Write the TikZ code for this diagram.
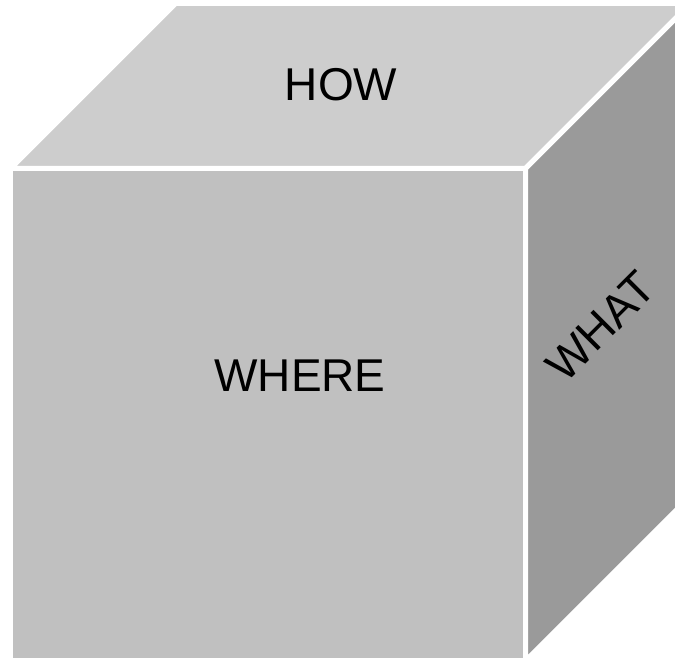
\documentclass[tikz,border=0pt]{standalone}
\usepackage{fontspec}
\setmainfont{Liberation Sans}
\definecolor{topgray}{HTML}{CDCDCD}
\definecolor{frontgray}{HTML}{C0C0C0}
\definecolor{sidegray}{HTML}{9A9A9A}
\begin{document}
\begin{tikzpicture}[x=1pt,y=-1pt,
  face/.style={draw=white,line width=5pt,line join=miter},
  label/.style={font=\fontsize{46}{50}\selectfont,text height=33pt,text depth=0pt,inner sep=0pt,anchor=center}]
\useasboundingbox (0,0) rectangle (675,658);
\clip (0,0) rectangle (675,658);
\fill[white] (0,0) rectangle (675,658);
\filldraw[face,fill=topgray] (10.5,168.5) -- (175.5,3.5) -- (690.5,3.5) -- (525.5,168.5) -- cycle;
\filldraw[face,fill=sidegray] (525.5,168.5) -- (690.5,3.5) -- (690.5,496) -- (525.5,661) -- cycle;
\filldraw[face,fill=frontgray] (10.5,168.5) rectangle (525.5,661);
\node[label] (how) at (341,84.5) {HOW};
\node[label] (where) at (300,375) {WHERE};
\node[label,rotate=45] (what) at (600,326) {WHAT};
\end{tikzpicture}
\end{document}
